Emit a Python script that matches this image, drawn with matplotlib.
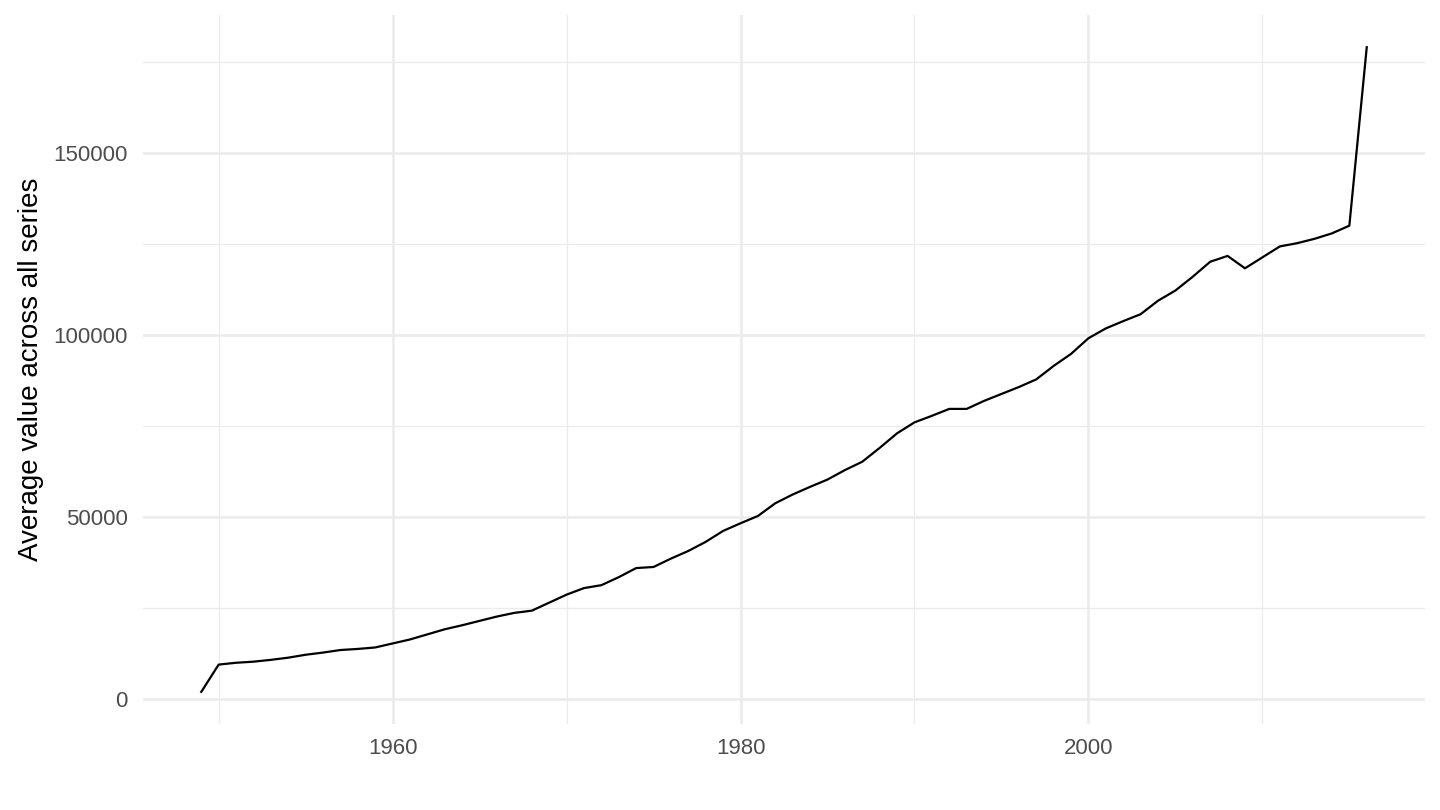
import numpy as np
import matplotlib.pyplot as plt
from matplotlib.ticker import MultipleLocator

plt.rcParams['font.family'] = ['Liberation Sans', 'DejaVu Sans']

# yearly averages
years = np.arange(1949, 2017)
values = [
    2000, 9500, 10000, 10300, 10800, 11400, 12200, 12800, 13500, 13800,
    14200, 15300, 16400, 17800, 19200, 20300, 21500, 22700, 23700, 24300,
    26500, 28700, 30500, 31300, 33500, 36000, 36300, 38600, 40700, 43200,
    46200, 48300, 50300, 53800, 56200, 58300, 60300, 62900, 65200, 69000,
    73000, 76000, 77800, 79700, 79700, 81900, 83800, 85700, 87800, 91500,
    94800, 99100, 101800, 103800, 105700, 109400, 112200, 116000, 120100, 121700,
    118300, 121300, 124300, 125200, 126400, 127900, 130000, 179000,
]

fig = plt.figure(figsize=(14.4, 8.1), dpi=100)
ax = fig.add_axes([0.0993, 0.106, 0.8903, 0.8755])

ax.plot(years, values, color='black', lw=1.6, zorder=3)

xr = years[-1] - years[0]
ax.set_xlim(years[0] - 0.05 * xr, years[-1] + 0.05 * xr)
yr = max(values) - min(values)
ax.set_ylim(min(values) - 0.05 * yr, max(values) + 0.05 * yr)

ax.xaxis.set_major_locator(MultipleLocator(20))
ax.xaxis.set_minor_locator(MultipleLocator(10))
ax.yaxis.set_major_locator(MultipleLocator(50000))
ax.yaxis.set_minor_locator(MultipleLocator(25000))
ax.set_xticks([1960, 1980, 2000])

ax.grid(which='major', color='#EBEBEB', lw=1.8)
ax.grid(which='minor', color='#EBEBEB', lw=0.9)
ax.set_axisbelow(True)
for s in ax.spines.values():
    s.set_visible(False)
ax.tick_params(which='both', length=0, labelsize=16, colors='#4D4D4D')
ax.tick_params(axis='y', pad=11)
ax.tick_params(axis='x', pad=10)
ax.set_ylabel('Average value across all series', fontsize=20, color='black', labelpad=7)

fig.savefig('out.png', dpi=100)
